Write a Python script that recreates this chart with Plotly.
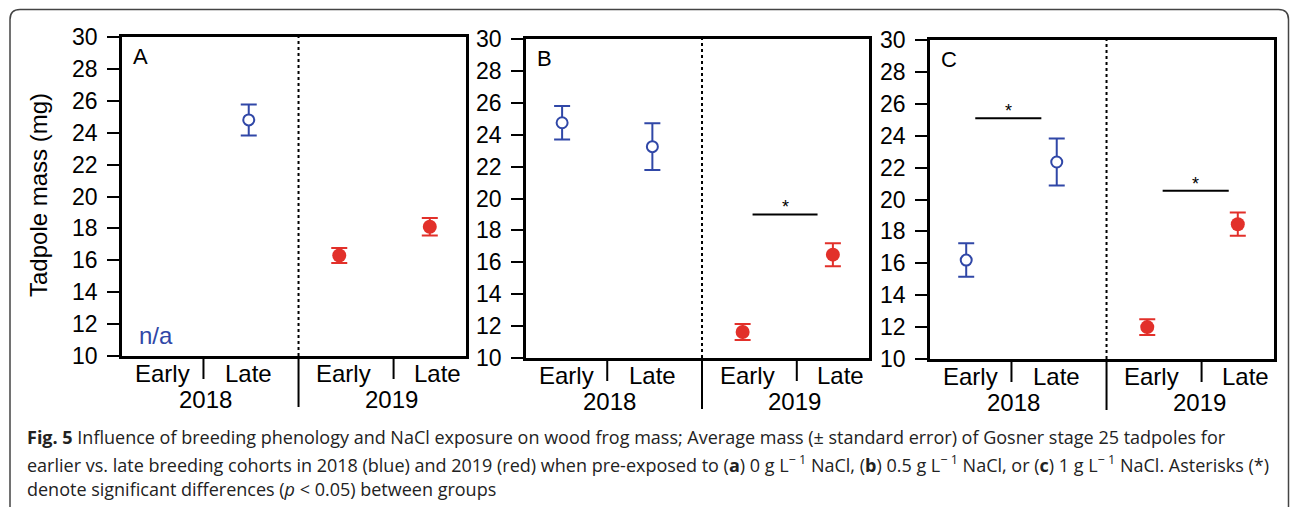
import plotly.graph_objects as go

W, H = 1290, 507

# ---- data: mean tadpole mass (mg) and standard error, Early/Late cohorts ----
cohorts = ["Early", "Late"]
years = ["2018", "2019"]

a_2018_mean = [None, 24.8]
a_2018_se = [None, 0.97]
a_2019_mean = [16.3, 18.1]
a_2019_se = [0.47, 0.55]

b_2018_mean = [24.75, 23.25]
b_2018_se = [1.05, 1.47]
b_2019_mean = [11.63, 16.48]
b_2019_se = [0.5, 0.72]

c_2018_mean = [16.2, 22.35]
c_2018_se = [1.05, 1.47]
c_2019_mean = [12.0, 18.45]
c_2019_se = [0.5, 0.73]

# significance bars: (panel, x0, x1, height)
sig_bars = [("B", 3.11, 3.83, 19.0), ("C", 1.1, 1.83, 25.1), ("C", 3.17, 3.9, 20.55)]

y_ticks = list(range(10, 31, 2))
panel_letters = ["A", "B", "C"]

BLUE = "#3047a7"
RED = "#e2302a"
FONT = "Liberation Sans, Arial, sans-serif"

x_2018 = [1, 2]
x_2019 = [3, 4]

# panel boxes in pixels: (left, right, top, bottom)
boxes = [(122, 466, 37, 356), (526, 869, 39, 358), (930, 1274, 40, 359)]


def px(x):
    return x / W


def py(y):
    return 1 - y / H


fig = go.Figure()

series = [
    (a_2018_mean, a_2018_se, a_2019_mean, a_2019_se),
    (b_2018_mean, b_2018_se, b_2019_mean, b_2019_se),
    (c_2018_mean, c_2018_se, c_2019_mean, c_2019_se),
]

for i, (m18, s18, m19, s19) in enumerate(series):
    xa = "x" if i == 0 else f"x{i + 1}"
    ya = "y" if i == 0 else f"y{i + 1}"
    fig.add_trace(go.Scatter(
        x=x_2018, y=m18, mode="markers", xaxis=xa, yaxis=ya, showlegend=False,
        marker=dict(symbol="circle", size=11, color="white", line=dict(color=BLUE, width=2)),
        error_y=dict(type="data", array=s18, width=8, thickness=2, color=BLUE),
    ))
    fig.add_trace(go.Scatter(
        x=x_2019, y=m19, mode="markers", xaxis=xa, yaxis=ya, showlegend=False,
        marker=dict(symbol="circle", size=14, color=RED, line=dict(color=RED, width=0)),
        error_y=dict(type="data", array=s19, width=8, thickness=2, color=RED),
    ))

layout = dict(
    width=W, height=H, margin=dict(l=0, r=0, t=0, b=0, autoexpand=False),
    paper_bgcolor="white", plot_bgcolor="white",
    font=dict(family=FONT, color="black"),
)

shapes = []
annotations = []

for i, (l, r, t, b) in enumerate(boxes):
    sfx = "" if i == 0 else str(i + 1)
    layout[f"xaxis{sfx}"] = dict(
        domain=[px(l), px(r)], range=[0.6, 4.4], anchor=f"y{sfx}",
        showline=True, mirror=True, linewidth=2.5, linecolor="black",
        showgrid=False, zeroline=False, showticklabels=False, ticks="",
        fixedrange=True, automargin=False,
    )
    layout[f"yaxis{sfx}"] = dict(
        domain=[py(b), py(t)], range=[10, 30], anchor=f"x{sfx}",
        tickvals=y_ticks, ticks="outside", ticklen=12, tickwidth=1.5, tickcolor="black",
        ticklabelstandoff=5,
        tickfont=dict(size=23, family=FONT, color="black"),
        showline=True, mirror=True, linewidth=2.5, linecolor="black",
        showgrid=False, zeroline=False, fixedrange=True, automargin=False,
    )
    xr = f"x{sfx}"
    yr = f"y{sfx}"

    # dotted divider between years
    shapes.append(dict(type="line", xref=xr, yref=yr, x0=2.55, x1=2.55, y0=10, y1=30,
                       line=dict(color="black", width=2, dash="dot")))
    # cohort separators below axis
    for xs in (1.5, 3.6):
        shapes.append(dict(type="line", xref=xr, yref="paper", x0=xs, x1=xs,
                           y0=py(b + 2), y1=py(b + 23), line=dict(color="black", width=2)))
    # year separator below axis
    shapes.append(dict(type="line", xref=xr, yref="paper", x0=2.55, x1=2.55,
                       y0=py(b + 2), y1=py(b + 51), line=dict(color="black", width=2)))

    # cohort labels and year labels
    for xc, txt in zip([1.05, 2.0, 3.05, 4.08], cohorts + cohorts):
        annotations.append(dict(xref=xr, yref="paper", x=xc, y=py(b + 17), text=txt,
                                showarrow=False, xanchor="center", yanchor="middle",
                                font=dict(size=24, family=FONT, color="black")))
    for xc, txt in zip([1.52, 3.58], years):
        annotations.append(dict(xref=xr, yref="paper", x=xc, y=py(b + 43), text=txt,
                                showarrow=False, xanchor="center", yanchor="middle",
                                font=dict(size=24, family=FONT, color="black")))

    # panel letter
    annotations.append(dict(xref="paper", yref="paper", x=px(l + 9), y=py(t + 19),
                            text=panel_letters[i], showarrow=False, xanchor="left",
                            yanchor="middle", font=dict(size=22, family=FONT, color="black")))

# n/a note for the missing early 2018 cohort in panel A
annotations.append(dict(xref="x", yref="y", x=0.98, y=11.3, text="n/a", showarrow=False,
                        xanchor="center", yanchor="middle",
                        font=dict(size=24, family=FONT, color=BLUE)))

# significance bars with asterisks
axis_of = {"A": ("x", "y"), "B": ("x2", "y2"), "C": ("x3", "y3")}
for panel, x0, x1, yv in sig_bars:
    xr, yr = axis_of[panel]
    shapes.append(dict(type="line", xref=xr, yref=yr, x0=x0, x1=x1, y0=yv, y1=yv,
                       line=dict(color="black", width=2)))
    annotations.append(dict(xref=xr, yref=yr, x=(x0 + x1) / 2, y=yv + 0.45, text="*",
                            showarrow=False, xanchor="center", yanchor="middle",
                            font=dict(size=18, family=FONT, color="black")))

# y-axis title
annotations.append(dict(xref="paper", yref="paper", x=px(39), y=py(195),
                        text="Tadpole mass (mg)", textangle=-90, showarrow=False,
                        xanchor="center", yanchor="middle",
                        font=dict(size=24, family=FONT, color="black")))

# figure frame with rounded top corners
x0f, x1f, y0f = px(10), px(1288.5), py(9.5)
rx, ry = px(10), 10 / H
shapes.append(dict(
    type="path", xref="paper", yref="paper",
    path=(f"M {x0f},0 L {x0f},{y0f - ry} Q {x0f},{y0f} {x0f + rx},{y0f} "
          f"L {x1f - rx},{y0f} Q {x1f},{y0f} {x1f},{y0f - ry} L {x1f},0"),
    line=dict(color="#444444", width=1.5),
))

# caption
CAP = "Open Sans, Noto Sans, sans-serif"
cap_lines = [
    "<b>Fig. 5</b> Influence of breeding phenology and NaCl exposure on wood frog mass; "
    "Average mass (± standard error) of Gosner stage 25 tadpoles for",
    "earlier vs. late breeding cohorts in 2018 (blue) and 2019 (red) when pre-exposed to "
    "(<b>a</b>) 0 g L<sup>− 1</sup> NaCl, (<b>b</b>) 0.5 g L<sup>− 1</sup> NaCl, or "
    "(<b>c</b>) 1 g L<sup>− 1</sup> NaCl. Asterisks (*)",
    "denote significant differences (<i>p</i> < 0.05) between groups",
]
for yy, txt in zip([437, 464, 489], cap_lines):
    annotations.append(dict(xref="paper", yref="paper", x=px(25), y=py(yy), text=txt,
                            showarrow=False, xanchor="left", yanchor="middle",
                            font=dict(size=18, family=CAP, color="#222222")))

layout["shapes"] = shapes
layout["annotations"] = annotations
fig.update_layout(**layout)

fig.write_html("out.html")
